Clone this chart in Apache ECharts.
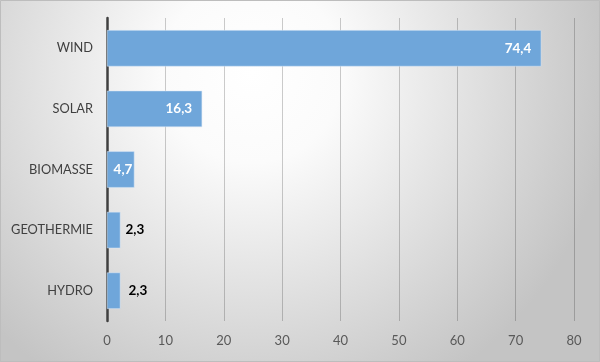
<!DOCTYPE html>
<html><head><meta charset="utf-8">
<script src="https://cdn.jsdelivr.net/npm/echarts@6/dist/echarts.min.js"></script>
<style>html,body{margin:0;padding:0;}#c{width:600px;height:362px;}</style>
</head><body><div id="c"></div>
<script>
const categories = ['HYDRO', 'GEOTHERMIE', 'BIOMASSE', 'SOLAR', 'WIND'];
const values = [2.3, 2.3, 4.7, 16.3, 74.4];
const valueLabels = ['2,3', '2,3', '4,7', '16,3', '74,4'];
const insideFlags = [false, false, true, true, true];
const xTicks = [0, 10, 20, 30, 40, 50, 60, 70, 80];

const chart = echarts.init(document.getElementById('c'), null, {renderer: 'canvas'});
const data = values.map((v, i) => ({
  value: v,
  label: insideFlags[i]
    ? {position: 'insideRight', color: '#ffffff', distance: v < 10 ? 2 : 10}
    : {position: 'right', color: '#000000', distance: i === 0 ? 8 : 5}
}));
chart.setOption({
  backgroundColor: {
    type: 'radial', x: 0.42, y: 0.2, r: 1.0,
    colorStops: [{offset: 0, color: '#ffffff'}, {offset: 0.25, color: '#fbfbfb'}, {offset: 1, color: '#c4c4c4'}]
  },
  graphic: [{type: 'rect', shape: {x: 0.5, y: 0.5, width: 599, height: 361},
    style: {fill: 'none', stroke: '#bdbdbd', lineWidth: 1}, silent: true}],
  grid: {left: 107, right: 26, top: 18, bottom: 41},
  xAxis: {
    type: 'value', min: xTicks[0], max: xTicks[xTicks.length - 1], interval: 10,
    axisLine: {show: false}, axisTick: {show: false},
    splitLine: {show: true, lineStyle: {color: 'rgba(0,0,0,0.2)', width: 1}},
    axisLabel: {color: '#595959', fontFamily: 'Lato', fontSize: 13, margin: 13}
  },
  yAxis: {
    type: 'category', data: categories,
    axisLine: {show: true, lineStyle: {color: '#404040', width: 2.5}},
    axisTick: {show: false},
    axisLabel: {color: '#404040', fontFamily: 'Lato', fontSize: 12.8, margin: 14}
  },
  series: [{
    type: 'bar', data: data, barCategoryGap: '40%',
    itemStyle: {color: '#6fa6da', borderColor: '#dce9f6', borderWidth: 0.5},
    label: {show: true, formatter: p => valueLabels[p.dataIndex],
      fontFamily: 'Lato', fontWeight: 'bold', fontSize: 13.5},
    animation: false
  }],
  animation: false
});
</script></body></html>
